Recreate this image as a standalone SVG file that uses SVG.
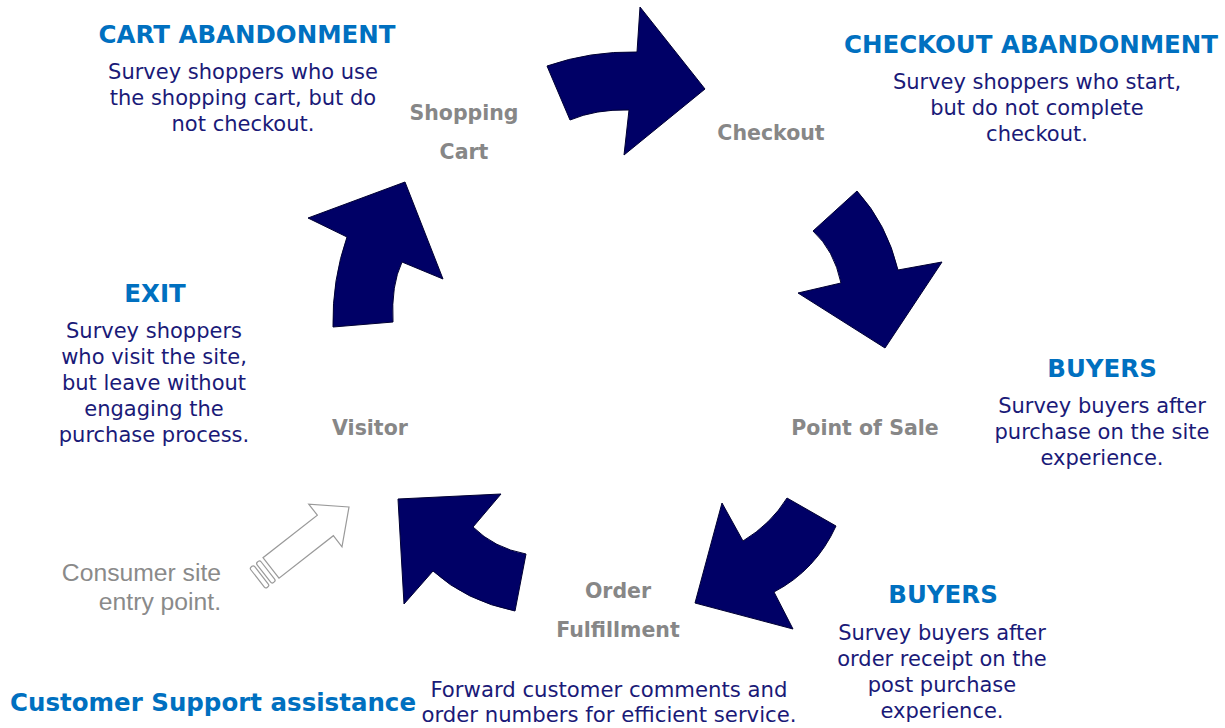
<svg xmlns="http://www.w3.org/2000/svg" width="1225" height="728" viewBox="0 0 1225 728">
  <defs>
    <style>
      .flow { fill: #000066; stroke: #000033; stroke-width: 1; stroke-linejoin: miter; }
      .head { font-family: "DejaVu Sans", Verdana, sans-serif; font-weight: bold; font-size: 24.5px; fill: #0070c0; text-anchor: middle; }
      .body { font-family: "DejaVu Sans", Verdana, sans-serif; font-size: 21px; fill: #1a1a78; text-anchor: middle; }
      .stage { font-family: "DejaVu Sans", Verdana, sans-serif; font-weight: bold; font-size: 20.5px; fill: #878787; text-anchor: middle; }
      .entry { font-family: "Liberation Sans", Arial, sans-serif; font-size: 24.7px; fill: #8a8a8a; text-anchor: end; }
      .outline { fill: #ffffff; stroke: #9a9a9a; stroke-width: 1.2; }
      .support { font-family: "DejaVu Sans Condensed", "DejaVu Sans", sans-serif; font-stretch: condensed; font-weight: bold; font-size: 24px; fill: #0070c0; }
      .note { font-family: "DejaVu Sans Condensed", "DejaVu Sans", sans-serif; font-stretch: condensed; font-size: 22px; fill: #1a1a78; text-anchor: middle; }
    </style>
  </defs>
  <rect width="1225" height="728" fill="#ffffff"/>

  <!-- curved block arrows linking the stages of the cycle -->
  <g id="connectors">
    <path id="cart-to-checkout" class="flow" d="M547,66 Q590,51 637,52 L640,7 L705,89 L624,155 L629,110 Q596,109 570,120 Z"/>
    <path id="checkout-to-sale" class="flow" d="M857,191 L813,231 Q834,250 841,283 L798,293 L885,348 L942,262 L898,270 Q887,224 857,191 Z"/>
    <path id="sale-to-fulfillment" class="flow" d="M787,498 L836,526 Q816,570 774,592 L793,629 L695,603 L722,503 L743,541 Q771,524 787,498 Z"/>
    <path id="fulfillment-to-visitor" class="flow" d="M501,494 L398,499 L404,604 L433,571 Q466,601 515,611 L526,554 Q494,548 473,527 Z"/>
    <path id="visitor-to-cart" class="flow" d="M333,327 L393,322 Q391,285 402,262 L443,279 L405,182 L308,218 L347,237 Q332,280 333,327 Z"/>
    <!-- hollow entry arrow -->
    <g id="entry-arrow" transform="translate(349,507) rotate(-38)">
      <polygon class="outline" points="0,0 -30,-27 -30,-13 -99,-13 -99,13 -30,13 -30,27"/>
      <rect class="outline" x="-108" y="-13" width="5" height="26" rx="2"/>
      <rect class="outline" x="-116" y="-13" width="5" height="26" rx="2"/>
    </g>
  </g>

  <g id="cart-abandonment">
    <text class="head" x="247" y="43">CART ABANDONMENT</text>
    <text class="body" x="243" y="79">Survey shoppers who use</text>
    <text class="body" x="243" y="105">the shopping cart, but do</text>
    <text class="body" x="243" y="131">not checkout.</text>
  </g>

  <g id="shopping-cart">
    <text class="stage" x="464" y="120">Shopping</text>
    <text class="stage" x="464" y="159">Cart</text>
  </g>

  <g id="checkout">
    <text class="stage" x="771" y="140">Checkout</text>
  </g>

  <g id="checkout-abandonment">
    <text class="head" x="1031" y="53">CHECKOUT ABANDONMENT</text>
    <text class="body" x="1037" y="89">Survey shoppers who start,</text>
    <text class="body" x="1037" y="115">but do not complete</text>
    <text class="body" x="1037" y="141">checkout.</text>
  </g>

  <g id="exit">
    <text class="head" x="155" y="302">EXIT</text>
    <text class="body" x="154" y="338">Survey shoppers</text>
    <text class="body" x="154" y="364">who visit the site,</text>
    <text class="body" x="154" y="390">but leave without</text>
    <text class="body" x="154" y="416">engaging the</text>
    <text class="body" x="154" y="442">purchase process.</text>
  </g>

  <g id="visitor">
    <text class="stage" x="370" y="435">Visitor</text>
  </g>

  <g id="point-of-sale">
    <text class="stage" x="865" y="435">Point of Sale</text>
  </g>

  <g id="buyers-site">
    <text class="head" x="1102" y="377">BUYERS</text>
    <text class="body" x="1102" y="413">Survey buyers after</text>
    <text class="body" x="1102" y="439">purchase on the site</text>
    <text class="body" x="1102" y="465">experience.</text>
  </g>

  <g id="entry-point">
    <text class="entry" x="221" y="581">Consumer site</text>
    <text class="entry" x="221" y="610">entry point.</text>
  </g>

  <g id="order-fulfillment">
    <text class="stage" x="618" y="598">Order</text>
    <text class="stage" x="618" y="637">Fulfillment</text>
  </g>

  <g id="buyers-receipt">
    <text class="head" x="943" y="603">BUYERS</text>
    <text class="body" x="942" y="640">Survey buyers after</text>
    <text class="body" x="942" y="666">order receipt on the</text>
    <text class="body" x="942" y="692">post purchase</text>
    <text class="body" x="942" y="718">experience.</text>
  </g>

  <g id="customer-support">
    <text class="support" x="10" y="711" textLength="406" lengthAdjust="spacingAndGlyphs">Customer Support assistance</text>
    <text class="note" x="609" y="697" textLength="357" lengthAdjust="spacingAndGlyphs">Forward customer comments and</text>
    <text class="note" x="609" y="722" textLength="375" lengthAdjust="spacingAndGlyphs">order numbers for efficient service.</text>
  </g>
</svg>
